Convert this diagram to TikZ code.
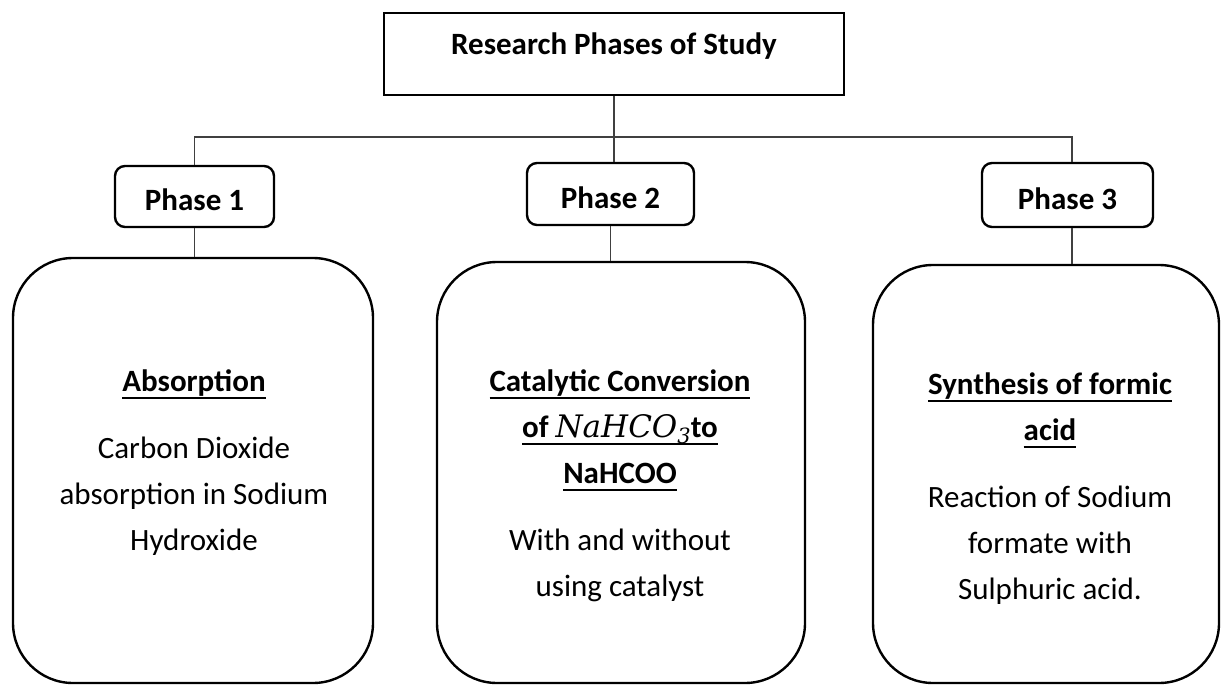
\documentclass[tikz,border=0pt]{standalone}
\usepackage{fontspec}
\setmainfont{Carlito}
\newfontfamily\formulafont{DejaVu Serif}
\usetikzlibrary{positioning}

% underline drawn at a fixed depth below the baseline
\newsavebox\undlbox
\newcommand\undl[1]{\sbox\undlbox{#1}\rlap{\rule[-7pt]{\wd\undlbox}{2pt}}\usebox\undlbox}
% chemical formula set in a serif italic, as in an equation
\newcommand\formula[2]{{\formulafont\mdseries\itshape #1\raisebox{-6pt}{\fontsize{21}{21}\selectfont #2}}}

\tikzset{
  titlebox/.style={draw=black, line width=2.8pt, minimum width=460pt, minimum height=82pt,
    font=\fontsize{31}{38}\selectfont\bfseries, text height=20pt, text depth=18pt},
  phasebox/.style={draw=black, line width=2.4pt, rounded corners=10pt, inner sep=0pt,
    font=\fontsize{31}{38}\selectfont\bfseries, text height=28pt, text depth=0pt},
  bigbox/.style={draw=black, line width=2.4pt, rounded corners=60pt, inner sep=0pt},
  boxtext/.style={align=center, inner sep=0pt, font=\fontsize{31}{46}\selectfont},
  link/.style={draw=black!75, line width=1.6pt}
}

\begin{document}
\begin{tikzpicture}[x=1pt, y=-1pt]
  \useasboundingbox[fill=white] (0,0) rectangle (1221,685);

  % top of the hierarchy
  \node[titlebox] (title) at (614,54) {Research Phases of Study};

  % the three phase labels
  \node[phasebox, minimum width=159pt, minimum height=61pt] (phase1) at (194.5,196.5) {Phase 1};
  \node[phasebox, minimum width=167pt, minimum height=62pt] (phase2) at (610.5,194) {Phase 2};
  \node[phasebox, minimum width=171pt, minimum height=64pt] (phase3) at (1067.5,195) {Phase 3};

  % the three description panels
  \node[bigbox, minimum width=360pt, minimum height=425pt] (box1) at (193,470.5) {};
  \node[bigbox, minimum width=368pt, minimum height=421pt] (box2) at (621,472.5) {};
  \node[bigbox, minimum width=346pt, minimum height=418pt] (box3) at (1046,474) {};

  \node[boxtext] (text1) at (194,463) {\textbf{\undl{Absorption}}\\[21pt]
    Carbon Dioxide\\absorption in Sodium\\Hydroxide};
  \node[boxtext] (text2) at (620,486) {\textbf{\undl{Catalytic Conversion}}\\
    \textbf{\undl{of \formula{NaHCO}{3}to}}\\\textbf{\undl{NaHCOO}}\\[21pt]
    With and without\\using catalyst};
  \node[boxtext] (text3) at (1050,489) {\textbf{\undl{Synthesis of formic}}\\
    \textbf{\undl{acid}}\\[21pt]
    Reaction of Sodium\\formate with\\Sulphuric acid.};

  % connectors
  \coordinate (bus) at (0,137);
  \coordinate (drop3) at (1072,0);
  \draw[link] (title.south) -- (title.south |- phase2.north);
  \draw[link] (phase1.north) |- (bus -| drop3) -- (phase3.north -| drop3);
  \draw[link] (phase1.south) -- (phase1.south |- box1.north);
  \draw[link] (phase2.south) -- (phase2.south |- box2.north);
  \draw[link] (phase3.south -| drop3) -- (box3.north -| drop3);
\end{tikzpicture}
\end{document}
